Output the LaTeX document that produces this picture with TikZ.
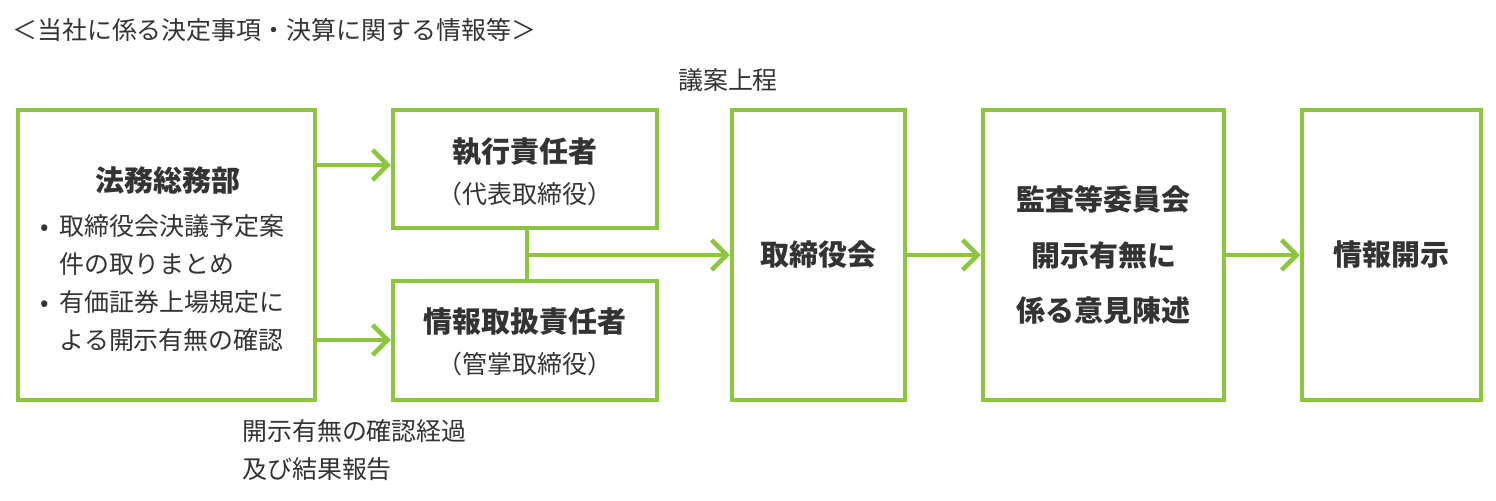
\documentclass[tikz,border=0pt]{standalone}
\usepackage{fontspec}
\setmainfont{Noto Sans CJK JP}
\usetikzlibrary{arrows.meta}
\definecolor{gr}{HTML}{8CC63F}
\definecolor{tx}{HTML}{333333}
\begin{document}
\begin{tikzpicture}[x=0.02cm,y=-0.02cm,
  box/.style={draw=gr,line width=0.09cm,inner sep=0,fill=white},
  arr/.style={draw=gr,line width=0.09cm,-{Straight Barb[length=0.3cm,width=0.6cm,line width=0.09cm]}},
  t/.style={text=tx,font=\fontsize{14.2}{21.6}\selectfont},
  h/.style={text=tx,font=\fontsize{16.5}{22}\bfseries\selectfont,align=center}]
\useasboundingbox (0,0) rectangle (1496,500);
\node[box,minimum width=0.02cm*297,minimum height=0.02cm*290] (b1) at (166.5,255) {};
\node[box,minimum width=0.02cm*264,minimum height=0.02cm*118] (b2) at (525,169) {};
\node[box,minimum width=0.02cm*264,minimum height=0.02cm*119] (b3) at (525,340.5) {};
\node[box,minimum width=0.02cm*173,minimum height=0.02cm*290] (b4) at (818.5,255) {};
\node[box,minimum width=0.02cm*241,minimum height=0.02cm*290] (b5) at (1103.5,255) {};
\node[box,minimum width=0.02cm*179,minimum height=0.02cm*290] (b6) at (1391.5,255) {};
\node[t,anchor=west] (title) at (6,30) {＜当社に係る決定事項・決算に関する情報等＞};
\node[t] (gian) at (728,80) {議案上程};
\node[t,anchor=west,align=left] (kak) at (236,450) {開示有無の確認経過\\及び結果報告};
\node[h] (h1) at (168,180) {法務総務部};
\node[t,anchor=north west,align=left] (l1) at (34,208) {•\ \ 取締役会決議予定案\\\phantom{•\ \ }件の取りまとめ\\•\ \ 有価証券上場規定に\\\phantom{•\ \ }よる開示有無の確認};
\node[h] at (525,152) {執行責任者};
\node[t] at (525,194) {（代表取締役）};
\node[h] at (525,322) {情報取扱責任者};
\node[t] at (525,364) {（管掌取締役）};
\node[h] at (b4) {取締役会};
\node[h,font=\fontsize{16.5}{31.5}\bfseries\selectfont] at (b5) {監査等委員会\\開示有無に\\係る意見陳述};
\node[h] at (b6) {情報開示};
\draw[arr] (b1.east|-0,165) -- (b2.west|-0,165);
\draw[arr] (b1.east|-0,340) -- (b3.west|-0,340);
\coordinate (m) at (527,255);
\draw[draw=gr,line width=0.09cm] (b2.south-|m) -- (b3.north-|m);
\draw[arr] (m) -- (b4.west);
\draw[arr] (b4.east) -- (b5.west);
\draw[arr] (b5.east) -- (b6.west);
\end{tikzpicture}
\end{document}
